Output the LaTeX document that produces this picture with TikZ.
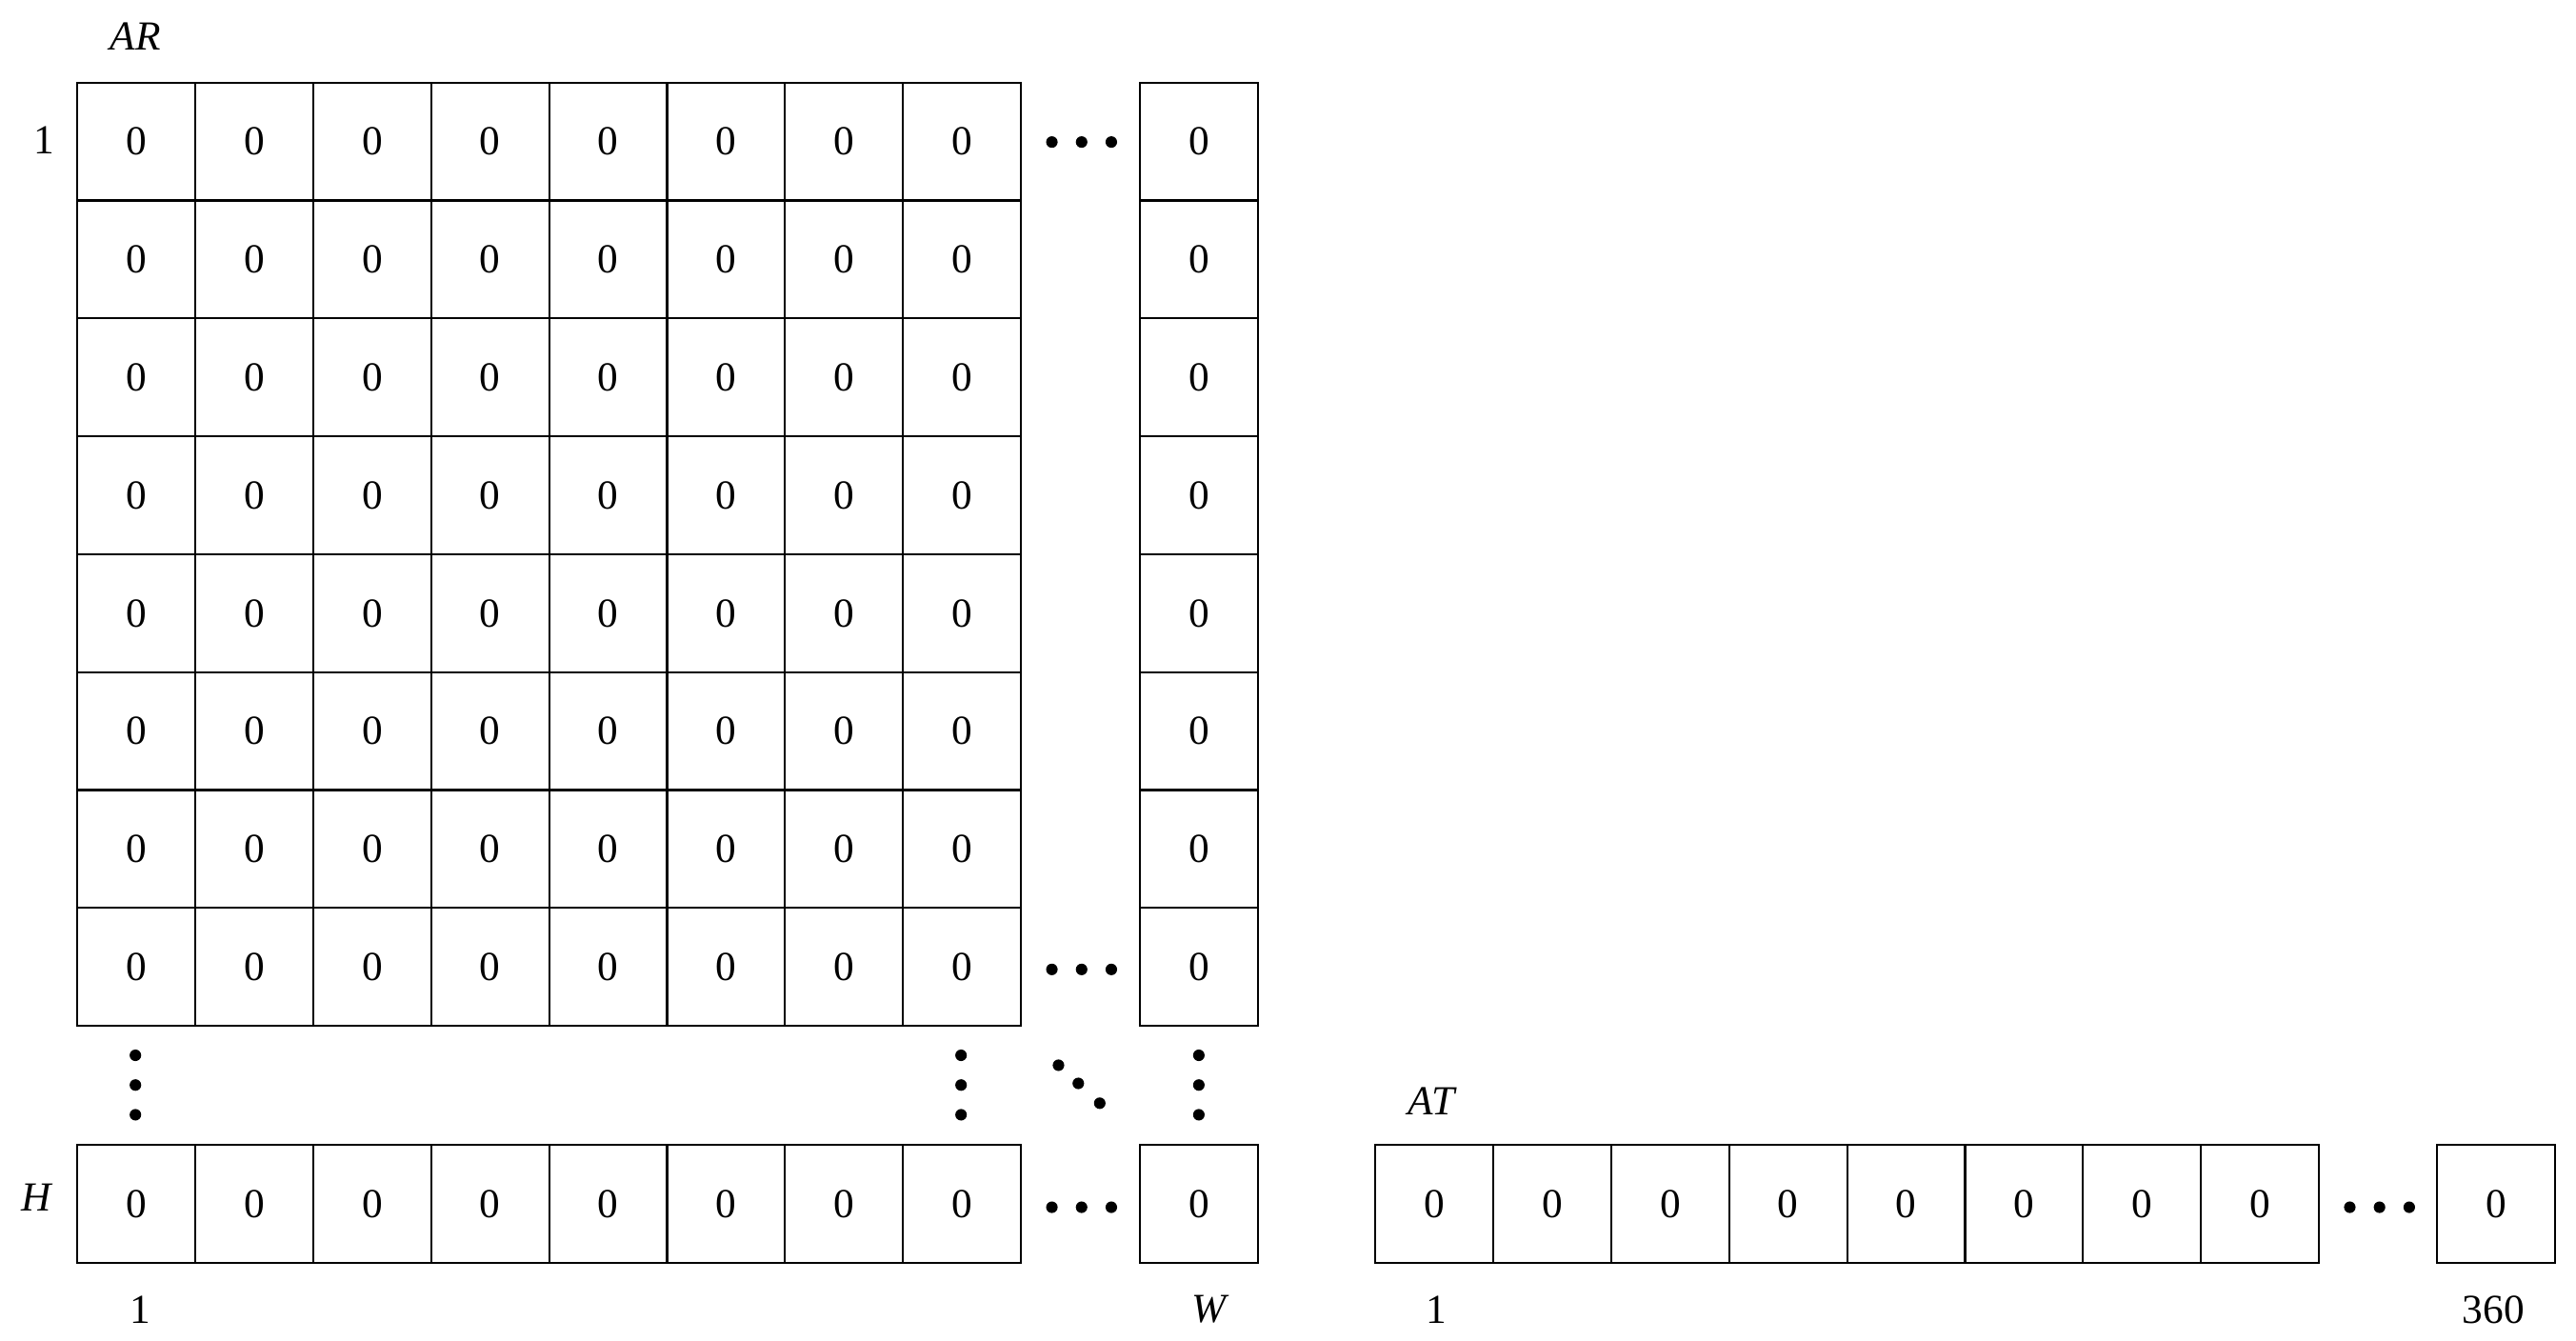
\documentclass[tikz,border=0pt]{standalone}
\usepackage{fontspec}
\setmainfont{Liberation Serif}
\begin{document}
\begin{tikzpicture}[x=1pt,y=-1pt,
  cell/.style={draw,line width=1.2pt,minimum width=71.5pt,minimum height=71.5pt,inner sep=0pt,font=\fontsize{25}{30}\selectfont},
  lab/.style={font=\fontsize{25}{30}\selectfont},
  dot/.style={fill,circle,inner sep=0pt,minimum size=7pt}]
\useasboundingbox (0,0) rectangle (1560,812);
\foreach \r [evaluate=\r as \yy using {50+71.4*(\r-1)+35.7}] in {1,...,8}{
  \foreach \c [evaluate=\c as \xx using {47+71.4*(\c-1)+35.7}] in {1,...,8}{
    \node[cell] (g-\r-\c) at (\xx,\yy) {0};
  }
  \node[cell] (g-\r-w) at (726,\yy) {0};
}
\foreach \c [evaluate=\c as \xx using {47+71.4*(\c-1)+35.7}] in {1,...,8}{
  \node[cell] (h-\c) at (\xx,729) {0};
  \node[cell] (t-\c) at (833+\xx-47,729) {0};
}
\node[cell] (h-w) at (726,729) {0};
\node[cell] (t-w) at (1511.5,729) {0};
% dots
\foreach \x in {637,655,673}{
  \node[dot] at (\x,86) {}; \node[dot] at (\x,587) {}; \node[dot] at (\x,731) {};
}
\foreach \x in {1423,1441,1459}{\node[dot] at (\x,731) {};}
\foreach \x in {82,582,726}{
  \foreach \y in {639,657,675}{\node[dot] at (\x,\y) {};}
}
\node[dot] at (641,645) {}; \node[dot] at (653,656) {}; \node[dot] at (666,668) {};
% labels
\node[lab] (lAR) at (82,22) {\itshape AR};
\node[lab] (l1) at (27,85) {1};
\node[lab] (lH) at (22,725) {\itshape H};
\node[lab] (l1b) at (85,793) {1};
\node[lab] (lW) at (732,793) {\itshape W};
\node[lab] (lAT) at (867,667) {\itshape AT};
\node[lab] (l1c) at (870,793) {1};
\node[lab] (l360) at (1510,793) {360};
\end{tikzpicture}
\end{document}
